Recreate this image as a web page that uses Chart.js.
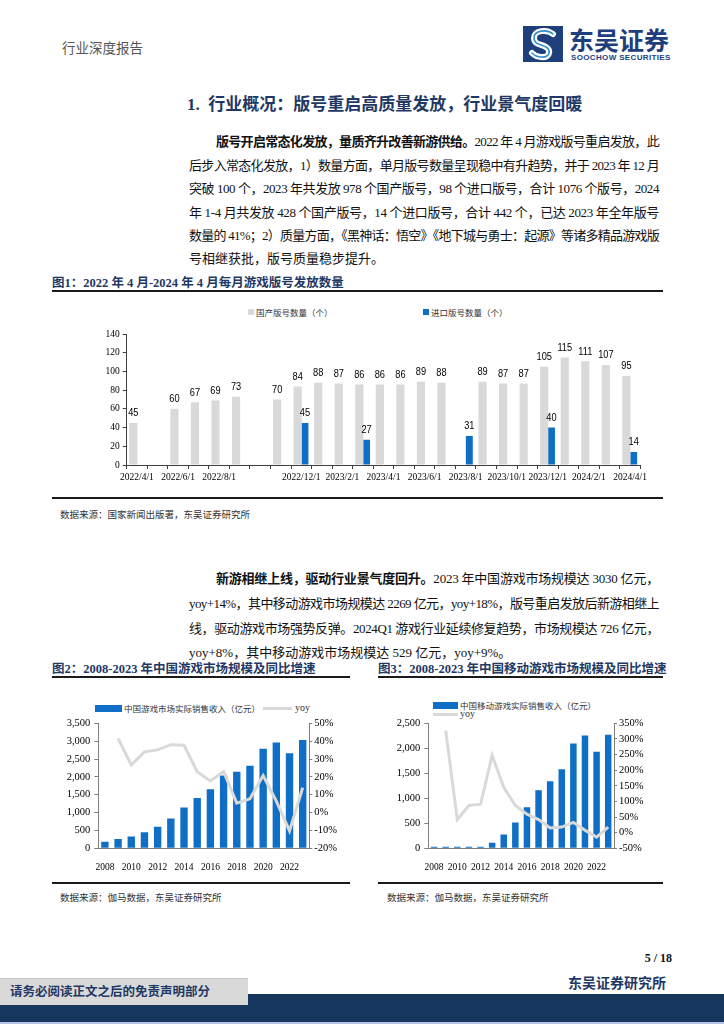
<!DOCTYPE html>
<html>
<head>
<meta charset="utf-8">
<script src="https://cdn.jsdelivr.net/npm/chart.js@4.4.1/dist/chart.umd.min.js"></script>
<style>
body{margin:0;width:724px;height:1024px;position:relative;background:#fff;overflow:hidden;
  font-family:"Liberation Serif","Noto Sans CJK SC",serif;color:#111}
.a{position:absolute;white-space:nowrap}
.ln{position:absolute;height:20px;line-height:20px;font-size:13px;white-space:nowrap}
.ftitle{position:absolute;font-size:12.5px;font-weight:bold;color:#1F3864;height:20px;line-height:20px;white-space:nowrap}
.rule{position:absolute;background:#1a1a1a}
.src{position:absolute;font-size:9.5px;color:#333;height:16px;line-height:16px;white-space:nowrap;font-family:"Noto Sans CJK SC"}
.lg{position:absolute;font-size:8.5px;color:#333;height:12px;line-height:12px;white-space:nowrap;font-family:"Noto Sans CJK SC"}
canvas{position:absolute}
</style>
</head>
<body>

<!-- header -->
<div class="a" style="left:62px;top:38px;font-size:13.5px;color:#555;font-family:'Noto Sans CJK SC';line-height:18px">行业深度报告</div>
<svg style="position:absolute;left:523px;top:26px" width="40" height="36" viewBox="0 0 40 36">
  <rect width="40" height="36" fill="#1E3F7C"/>
  <path d="M30 8 C24 3 11 4 11 12 C11 19 19 18 23 21 C29 25 26 32 18 31 C14 31 11 29 9 27" stroke="#fff" stroke-width="6" fill="none" stroke-linecap="round"/>
  <path d="M30 8 C24 3 11 4 11 12 C11 19 19 18 23 21 C29 25 26 32 18 31 C14 31 11 29 9 27" stroke="#2F8FD0" stroke-width="1.6" fill="none" stroke-linecap="round"/>
</svg>
<div class="a" style="left:569px;top:24px;font-size:25px;font-weight:700;color:#1E3F7C;font-family:'Noto Sans CJK SC';line-height:30px">东吴证券</div>
<div class="a" style="left:571px;top:53px;font-size:8px;font-weight:bold;color:#1E3F7C;font-family:'Liberation Sans';line-height:10px;letter-spacing:0.35px">SOOCHOW SECURITIES</div>

<!-- section title -->
<div class="a" style="left:187px;top:94px;font-size:17px;font-weight:bold;color:#1F3864;line-height:22px">1.&nbsp;&nbsp;行业概况：版号重启高质量发放，行业景气度回暖</div>

<!-- paragraph 1 -->
<div class="ln fit" data-w="443" style="left:216px;top:132px"><b>版号开启常态化发放，量质齐升改善新游供给。</b>2022 年 4 月游戏版号重启发放，此</div>
<div class="ln fit" data-w="470" style="left:189px;top:156px">后步入常态化发放，1）数量方面，单月版号数量呈现稳中有升趋势，并于 2023 年 12 月</div>
<div class="ln fit" data-w="470" style="left:189px;top:179px">突破 100 个，2023 年共发放 978 个国产版号，98 个进口版号，合计 1076 个版号，2024</div>
<div class="ln fit" data-w="470" style="left:189px;top:203px">年 1-4 月共发放 428 个国产版号，14 个进口版号，合计 442 个，已达 2023 年全年版号</div>
<div class="ln fit" data-w="470" style="left:189px;top:226px">数量的 41%；2）质量方面，《黑神话：悟空》《地下城与勇士：起源》等诸多精品游戏版</div>
<div class="ln" style="left:189px;top:249px">号相继获批，版号质量稳步提升。</div>

<!-- figure 1 -->
<div class="ftitle" style="left:52px;top:273px">图1：2022 年 4 月-2024 年 4 月每月游戏版号发放数量</div>
<div class="rule" style="left:52px;top:290px;width:611px;height:2px"></div>
<div class="a" style="left:248px;top:309px;width:6px;height:6px;background:#D9D9D9"></div>
<div class="lg" style="left:256px;top:306px">国产版号数量（个）</div>
<div class="a" style="left:423px;top:309px;width:6px;height:6px;background:#0F6FC6"></div>
<div class="lg" style="left:431px;top:306px">进口版号数量（个）</div>
<canvas id="c1" width="611" height="197" style="left:52px;top:295px"></canvas>
<div class="rule" style="left:52px;top:497px;width:611px;height:1.5px"></div>
<div class="src" style="left:60px;top:506px">数据来源：国家新闻出版署，东吴证券研究所</div>

<!-- paragraph 2 -->
<div class="ln fit" data-w="443" style="left:216px;top:569px"><b>新游相继上线，驱动行业景气度回升。</b>2023 年中国游戏市场规模达 3030 亿元，</div>
<div class="ln fit" data-w="470" style="left:189px;top:594px">yoy+14%，其中移动游戏市场规模达 2269 亿元，yoy+18%，版号重启发放后新游相继上</div>
<div class="ln fit" data-w="470" style="left:189px;top:619px">线，驱动游戏市场强势反弹。2024Q1 游戏行业延续修复趋势，市场规模达 726 亿元，</div>
<div class="ln" style="left:189px;top:643px">yoy+8%，其中移动游戏市场规模达 529 亿元，yoy+9%。</div>

<!-- figure 2 / 3 -->
<div class="ftitle" style="left:52px;top:659px">图2：2008-2023 年中国游戏市场规模及同比增速</div>
<div class="ftitle" style="left:378px;top:659px">图3：2008-2023 年中国移动游戏市场规模及同比增速</div>
<div class="rule" style="left:52px;top:676px;width:298px;height:2px"></div>
<div class="rule" style="left:378px;top:676px;width:285px;height:2px"></div>

<div class="a" style="left:95px;top:705px;width:27px;height:7px;background:#0F6FC6"></div>
<div class="lg" style="left:124px;top:702px">中国游戏市场实际销售收入（亿元）</div>
<div class="a" style="left:263px;top:707px;width:29px;height:3px;background:#D9D9D9"></div>
<div class="lg" style="left:295px;top:702px;font-family:'Liberation Serif';font-size:10px">yoy</div>

<div class="a" style="left:433px;top:702px;width:25px;height:7px;background:#0F6FC6"></div>
<div class="lg" style="left:460px;top:699px">中国移动游戏实际销售收入（亿元）</div>
<div class="a" style="left:433px;top:713px;width:25px;height:3px;background:#D9D9D9"></div>
<div class="lg" style="left:460px;top:708px;font-family:'Liberation Serif';font-size:10px">yoy</div>

<canvas id="c2" width="298" height="182" style="left:52px;top:690px"></canvas>
<canvas id="c3" width="284" height="182" style="left:378px;top:690px"></canvas>

<div class="rule" style="left:52px;top:882px;width:298px;height:1.5px"></div>
<div class="rule" style="left:378px;top:882px;width:285px;height:1.5px"></div>
<div class="src" style="left:60px;top:889px">数据来源：伽马数据，东吴证券研究所</div>
<div class="src" style="left:387px;top:889px">数据来源：伽马数据，东吴证券研究所</div>

<!-- footer -->
<div class="a" style="right:52px;top:950px;font-size:12px;font-weight:bold;line-height:16px">5 / 18</div>
<div class="a" style="left:0;top:994px;width:724px;height:28px;background:#17365D"></div>
<div class="a" style="left:0;top:1022px;width:724px;height:2px;background:#B4C6E7"></div>
<div class="a" style="left:0;top:978px;width:248px;height:26px;background:#D9D9D9;border-top:1px solid #c8c8c8"></div>
<div class="a" style="left:10px;top:981px;font-size:12.5px;font-weight:bold;color:#1F3864;line-height:20px;font-family:'Noto Sans CJK SC'">请务必阅读正文之后的免责声明部分</div>
<div class="a" style="right:58px;top:972px;font-size:14px;font-weight:bold;color:#1F3864;line-height:20px;font-family:'Noto Sans CJK SC'">东吴证券研究所</div>

<script>
// ---- Figure 1: monthly game licences ----
const months = ['2022/4/1','2022/5/1','2022/6/1','2022/7/1','2022/8/1','2022/9/1','2022/10/1','2022/11/1',
  '2022/12/1','2023/1/1','2023/2/1','2023/3/1','2023/4/1','2023/5/1','2023/6/1','2023/7/1','2023/8/1',
  '2023/9/1','2023/10/1','2023/11/1','2023/12/1','2024/1/1','2024/2/1','2024/3/1','2024/4/1'];
const domestic = [45,null,60,67,69,73,null,70,84,88,87,86,86,86,89,88,null,89,87,87,105,115,111,107,95];
const imported = [null,null,null,null,null,null,null,null,45,null,null,27,null,null,null,null,31,null,null,null,40,null,null,null,14];
const monthTicks = ['2022/4/1','2022/6/1','2022/8/1','2022/12/1','2023/2/1','2023/4/1','2023/6/1',
  '2023/8/1','2023/10/1','2023/12/1','2024/2/1','2024/4/1'];

// ---- Figure 2 / 3: market size ----
const years = ['2008','2009','2010','2011','2012','2013','2014','2015','2016','2017','2018','2019','2020','2021','2022','2023'];
const yearTicks = ['2008','2010','2012','2014','2016','2018','2020','2022'];
const gameRevenue = [186,263,333,446,603,832,1145,1407,1656,2036,2144,2309,2787,2965,2659,3030];
const gameYoy = [null,41.6,26.7,34.0,35.1,38.0,37.7,22.9,17.7,23.0,5.3,7.7,20.7,6.4,-10.3,14.0];
const mobileRevenue = [1.5,6.4,9.1,17,32.4,112.4,274.9,514.6,819.2,1161.2,1339.6,1581.1,2096.8,2255.4,1930.6,2268.6];
const mobileYoy = [null,327,42,87,91,247,145,87,59,42,15,18,33,8,-14,18];

Chart.defaults.font.family = "'Liberation Serif'";
Chart.defaults.color = '#000';

const blue = '#0F6FC6', grey = '#D9D9D9', axisCol = '#404040';

// value labels above bars (figure 1)
const valueLabels = {
  id: 'valueLabels',
  afterDatasetsDraw(chart) {
    const ctx = chart.ctx;
    ctx.save();
    ctx.font = '10.5px "Liberation Sans"';
    ctx.fillStyle = '#000';
    ctx.textAlign = 'center';
    ctx.textBaseline = 'middle';
    chart.data.datasets.forEach((ds, i) => {
      chart.getDatasetMeta(i).data.forEach((bar, j) => {
        if (ds.data[j] == null) return;
        ctx.save();
        ctx.translate(bar.x, bar.y - 9.5);
        ctx.scale(0.88, 1);
        ctx.fillText(String(ds.data[j]), 0, 0);
        ctx.restore();
      });
    });
    ctx.restore();
  }
};

new Chart(document.getElementById('c1'), {
  type: 'bar',
  data: {
    labels: months,
    datasets: [
      {label: '国产版号数量（个）', data: domestic, backgroundColor: grey, categoryPercentage: 0.71, barPercentage: 1.12},
      {label: '进口版号数量（个）', data: imported, backgroundColor: blue, categoryPercentage: 0.71, barPercentage: 0.95}
    ]
  },
  options: {
    responsive: false, animation: false, devicePixelRatio: 1,
    layout: {padding: {top: 39, right: 22.7, left: 0, bottom: 0}},
    plugins: {legend: {display: false}, tooltip: {enabled: false}},
    scales: {
      x: {
        grid: {drawOnChartArea: false, tickLength: 4, color: axisCol},
        border: {color: axisCol},
        ticks: {autoSkip: false, maxRotation: 0, minRotation: 0, padding: 3, font: {size: 9.5},
          callback: (v, i) => monthTicks.includes(months[i]) ? months[i] : ''},
        afterFit: s => { s.height = 27; }
      },
      y: {
        min: 0, max: 140,
        ticks: {stepSize: 20, padding: 3, font: {size: 9.5}},
        grid: {drawOnChartArea: false, tickLength: 4, color: axisCol},
        border: {color: axisCol},
        afterFit: s => { s.width = 74.7; }
      }
    }
  },
  plugins: [valueLabels]
});

function marketChart(id, revenue, yoy, leftMax, yoyMin, yoyMax, yoyStep, leftW, rightW) {
  return new Chart(document.getElementById(id), {
    type: 'bar',
    data: {
      labels: years,
      datasets: [
        {type: 'line', label: 'yoy', data: yoy, yAxisID: 'y1', borderColor: grey, borderWidth: 3,
          pointRadius: 0, tension: 0},
        {type: 'bar', label: 'revenue', data: revenue, yAxisID: 'y', backgroundColor: blue,
          categoryPercentage: 1, barPercentage: 0.56, minBarLength: 1.5}
      ]
    },
    options: {
      responsive: false, animation: false, devicePixelRatio: 1,
      layout: {padding: {top: 33.3, right: 0, left: 0, bottom: 0}},
      plugins: {legend: {display: false}, tooltip: {enabled: false}},
      scales: {
        x: {
          grid: {display: false},
          border: {color: '#7f7f7f'},
          ticks: {autoSkip: false, maxRotation: 0, minRotation: 0, padding: 5, font: {size: 9.5},
            callback: (v, i) => yearTicks.includes(years[i]) ? years[i] : ''},
          afterFit: s => { s.height = 23.7; }
        },
        y: {
          position: 'left', min: 0, max: leftMax,
          ticks: {stepSize: 500, padding: 4, font: {size: 10.5}, callback: v => v.toLocaleString('en-US')},
          grid: {drawOnChartArea: false, tickLength: 4, color: '#7f7f7f'},
          border: {color: '#7f7f7f'},
          afterFit: s => { s.width = leftW; }
        },
        y1: {
          position: 'right', min: yoyMin, max: yoyMax,
          ticks: {stepSize: yoyStep, padding: 2, font: {size: 10.5}, callback: v => v + '%'},
          grid: {drawOnChartArea: false, tickLength: 3, color: '#7f7f7f'},
          border: {color: '#7f7f7f'},
          afterFit: s => { s.width = rightW; }
        }
      }
    }
  });
}

marketChart('c2', gameRevenue, gameYoy, 3500, -20, 50, 10, 46.3, 40.7);
marketChart('c3', mobileRevenue, mobileYoy, 2500, -50, 350, 50, 50.3, 48);

// spread justified lines to the text column width
document.querySelectorAll('.fit').forEach(el => {
  const target = parseFloat(el.dataset.w);
  el.style.letterSpacing = '0px';
  const natural = el.getBoundingClientRect().width;
  const n = el.textContent.length;
  el.style.letterSpacing = ((target - natural) / n) + 'px';
});
</script>
</body>
</html>
